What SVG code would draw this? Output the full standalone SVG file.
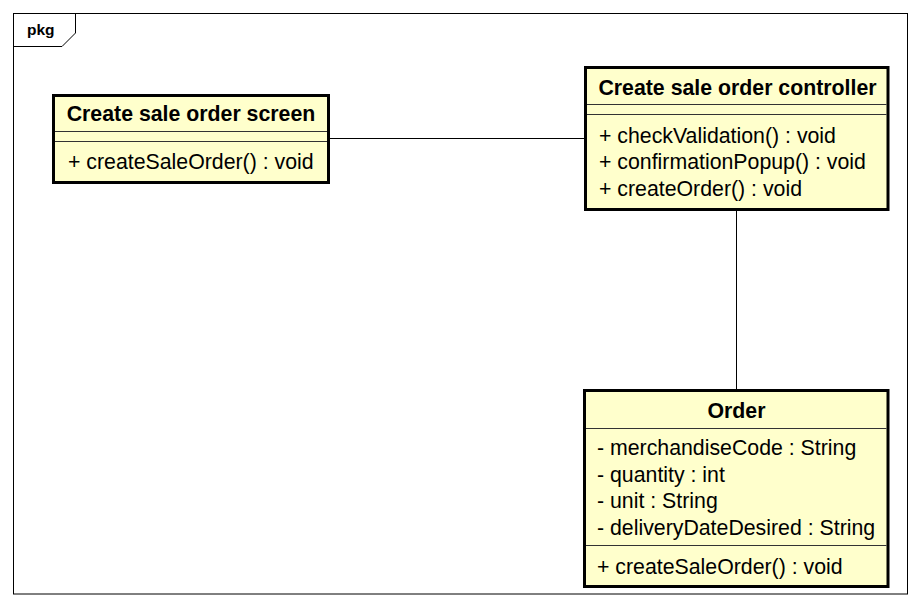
<svg xmlns="http://www.w3.org/2000/svg" width="921" height="606" viewBox="0 0 921 606">
<style>
.frame{fill:none;stroke:#000;stroke-width:1}
.box{fill:#FFFFCC;stroke:#000;stroke-width:3}
.sep{stroke:#333;stroke-width:1}
.conn{stroke:#000;stroke-width:1;fill:none}
.t{font-family:"Liberation Sans",Arial,sans-serif;font-size:21.3px;fill:#000}
.b{font-weight:bold}
.c{text-anchor:middle}
</style>
<rect width="921" height="606" fill="#fff"/>
<g id="frame">
<rect class="frame" x="13.5" y="13.5" width="894" height="580.5"/>
<path class="frame" d="M13.5,46.5 H62 L75.5,33 V13.5"/>
<text x="27" y="35" style="font-family:'Liberation Sans',Arial,sans-serif;font-size:15.5px;font-weight:bold">pkg</text>
</g>
<g id="connectors">
<line class="conn" x1="329" y1="138.5" x2="585" y2="138.5"/>
<line class="conn" x1="736.5" y1="210" x2="736.5" y2="390"/>
</g>
<g id="screen">
<rect class="box" x="53.5" y="95.5" width="275" height="87"/>
<line class="sep" x1="55" y1="131.5" x2="327" y2="131.5"/>
<line class="sep" x1="55" y1="141.5" x2="327" y2="141.5"/>
<text class="t b c" x="191" y="121">Create sale order screen</text>
<text class="t" x="68" y="168.5">+ createSaleOrder() : void</text>
</g>
<g id="controller">
<rect class="box" x="585.5" y="67.5" width="302.5" height="142"/>
<line class="sep" x1="587" y1="104.5" x2="886.5" y2="104.5"/>
<line class="sep" x1="587" y1="114.5" x2="886.5" y2="114.5"/>
<text class="t b c" x="737.5" y="95">Create sale order controller</text>
<text class="t" x="599" y="142.5">+ checkValidation() : void</text>
<text class="t" x="599" y="169.2">+ confirmationPopup() : void</text>
<text class="t" x="599" y="195.9">+ createOrder() : void</text>
</g>
<g id="order">
<rect class="box" x="584.5" y="390.5" width="303.5" height="196"/>
<line class="sep" x1="586" y1="428.5" x2="886.5" y2="428.5"/>
<line class="sep" x1="586" y1="545.5" x2="886.5" y2="545.5"/>
<text class="t b c" x="736.5" y="417.5">Order</text>
<text class="t" x="597" y="455">- merchandiseCode : String</text>
<text class="t" x="597" y="481.7">- quantity : int</text>
<text class="t" x="597" y="508.4">- unit : String</text>
<text class="t" x="597" y="535.1">- deliveryDateDesired : String</text>
<text class="t" x="597" y="573.5">+ createSaleOrder() : void</text>
</g>
</svg>
